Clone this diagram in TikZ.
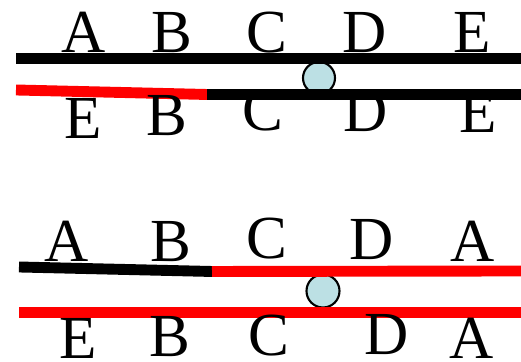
\documentclass[tikz,border=0pt]{standalone}
\usepackage{fontspec}
\setmainfont{Liberation Serif}
\definecolor{ballblue}{RGB}{188,224,228}
\definecolor{strandred}{RGB}{255,0,0}

\begin{document}
\begin{tikzpicture}[x=0.01cm, y=-0.01cm,
		letter/.style={anchor=base, inner sep=0pt, font=\fontsize{17.4}{20}\selectfont},
		strand/.style={line width=3.1pt, line cap=butt},
		ball/.style={draw=black, line width=0.6pt, fill=ballblue}]
		\useasboundingbox (0,0) rectangle (521,362);
		% upper pair of strands
		\node[ball] (c1) at (319,78) [circle, minimum size=0.32cm, inner sep=0pt] {};
		\coordinate (p1) at (16,58.5);
		\coordinate (q1) at (521,58.5);
		\coordinate (p2) at (16,90);
		\coordinate (m2) at (207,94.5);
		\coordinate (q2) at (521,94.5);
		\draw[strand] (p1) -- (q1);
		\draw[strand, strandred] (p2) -- (m2);
		\draw[strand] (m2) -- (q2);
		\node[letter] (a1) at (84,53) {A};
		\node[letter] (b1) at (172,53) {B};
		\node[letter] (cc1) at (267,53) {C};
		\node[letter] (d1) at (365,53) {D};
		\node[letter] (e1) at (472,53) {E};
		\node[letter] (e2) at (83,139) {E};
		\node[letter] (b2) at (167,136) {B};
		\node[letter] (cc2) at (263,131) {C};
		\node[letter] (d2) at (366,132) {D};
		\node[letter] (e3) at (478,133) {E};
		% lower pair of strands
		\node[ball] (c2) at (323,291) [circle, minimum size=0.33cm, inner sep=0pt] {};
		\coordinate (p3) at (19,267);
		\coordinate (m3) at (212,271.5);
		\coordinate (q3) at (521,271);
		\coordinate (p4) at (19,312.5);
		\coordinate (q4) at (521,312.5);
		\draw[strand] (p3) -- (m3);
		\draw[strand, strandred] (m3) -- (q3);
		\draw[strand, strandred] (p4) -- (q4);
		\node[letter] (a3) at (67,262) {A};
		\node[letter] (b3) at (171,262) {B};
		\node[letter] (cc3) at (267,259) {C};
		\node[letter] (d3) at (372,260) {D};
		\node[letter] (a4) at (473,262) {A};
		\node[letter] (e4) at (78,358.5) {E};
		\node[letter] (b4) at (170,357) {B};
		\node[letter] (cc4) at (269,356) {C};
		\node[letter] (d4) at (387,355) {D};
		\node[letter] (a5) at (472,358.5) {A};
\end{tikzpicture}
\end{document}
